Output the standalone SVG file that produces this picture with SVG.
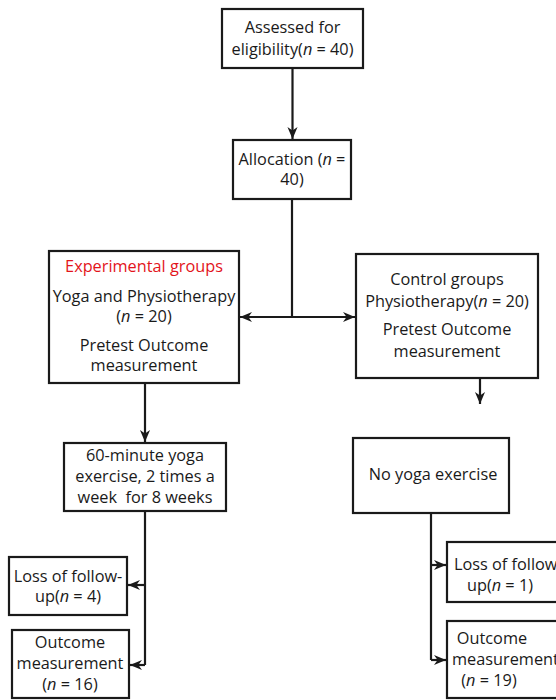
<svg xmlns="http://www.w3.org/2000/svg" width="556" height="700" viewBox="0 0 556 700">
<defs>
<marker id="ah" viewBox="0 0 10 10" refX="10" refY="5" markerWidth="12" markerHeight="12" markerUnits="userSpaceOnUse" orient="auto">
<path d="M0,0.8 L10,5 L0,9.2 L3,5 z" fill="#1a1a1a"/>
</marker>
<style>
.box{fill:#fff;stroke:#1a1a1a;stroke-width:2.2}
.t{font-family:"Open Sans","Liberation Sans",sans-serif;font-size:16.3px;fill:#1a1a1a;text-anchor:middle}
.red{fill:#e3141b}
.c{fill:none;stroke:#1a1a1a;stroke-width:2.2}
.ca{fill:none;stroke:#1a1a1a;stroke-width:2.2;marker-end:url(#ah)}
</style>
</defs>
<rect width="556" height="700" fill="#fff"/>
<g id="connectors">
<line class="ca" x1="292.5" y1="68" x2="292.5" y2="139"/>
<line class="c" x1="292" y1="199" x2="292" y2="317"/>
<line class="ca" x1="292" y1="317" x2="240" y2="317"/>
<line class="ca" x1="292" y1="317" x2="355" y2="317"/>
<line class="ca" x1="145" y1="383" x2="145" y2="442"/>
<line class="ca" x1="480" y1="350" x2="480" y2="404"/>
<line class="c" x1="145" y1="511" x2="145" y2="665"/>
<line class="ca" x1="145" y1="585" x2="128" y2="585"/>
<line class="ca" x1="145" y1="665" x2="130" y2="665"/>
<line class="c" x1="431" y1="513" x2="431" y2="660"/>
<line class="ca" x1="431" y1="565" x2="446" y2="565"/>
<line class="ca" x1="431" y1="660" x2="446" y2="660"/>
</g>
<g id="assessed">
<rect class="box" x="222" y="9" width="141" height="59"/>
<text class="t" x="292.5" y="33">Assessed for</text>
<text class="t" x="292.5" y="55">eligibility(<tspan font-style="italic">n</tspan> = 40)</text>
</g>
<g id="allocation">
<rect class="box" x="233" y="140" width="118" height="59"/>
<text class="t" x="292" y="165">Allocation (<tspan font-style="italic">n</tspan> =</text>
<text class="t" x="292" y="185">40)</text>
</g>
<g id="experimental">
<rect class="box" x="49" y="251" width="190" height="132"/>
<text class="t red" x="144" y="272">Experimental groups</text>
<text class="t" x="144" y="302">Yoga and Physiotherapy</text>
<text class="t" x="144" y="322">(<tspan font-style="italic">n</tspan> = 20)</text>
<text class="t" x="144" y="351">Pretest Outcome</text>
<text class="t" x="144" y="371">measurement</text>
</g>
<g id="control">
<rect class="box" x="356" y="254" width="182" height="124"/>
<text class="t" x="447" y="285">Control groups</text>
<text class="t" x="447" y="307">Physiotherapy(<tspan font-style="italic">n</tspan> = 20)</text>
<text class="t" x="447" y="335">Pretest Outcome</text>
<text class="t" x="447" y="357">measurement</text>
</g>
<g id="yoga">
<rect class="box" x="64" y="443" width="162" height="68"/>
<text class="t" x="145" y="461">60-minute yoga</text>
<text class="t" x="145" y="482">exercise, 2 times a</text>
<text class="t" x="145" y="503" xml:space="preserve">week  for 8 weeks</text>
</g>
<g id="noyoga">
<rect class="box" x="353" y="438" width="156" height="75"/>
<text class="t" x="433" y="480">No yoga exercise</text>
</g>
<g id="loss-left">
<rect class="box" x="9" y="557" width="118" height="58"/>
<text class="t" x="68" y="582">Loss of follow-</text>
<text class="t" x="68" y="602">up(<tspan font-style="italic">n</tspan> = 4)</text>
</g>
<g id="outcome-left">
<rect class="box" x="12" y="630" width="117" height="68"/>
<text class="t" x="70" y="648">Outcome</text>
<text class="t" x="70" y="669">measurement</text>
<text class="t" x="70" y="690">(<tspan font-style="italic">n</tspan> = 16)</text>
</g>
<g id="loss-right">
<rect class="box" x="447" y="542" width="120" height="60"/>
<text class="t" x="454" y="570" style="text-anchor:start">Loss of follow-</text>
<text class="t" x="500" y="591">up(<tspan font-style="italic">n</tspan> = 1)</text>
</g>
<g id="outcome-right">
<rect class="box" x="447" y="621" width="120" height="77"/>
<text class="t" x="492" y="644">Outcome</text>
<text class="t" x="452" y="665" style="text-anchor:start">measurement</text>
<text class="t" x="489" y="686">(<tspan font-style="italic">n</tspan> = 19)</text>
</g>
</svg>
